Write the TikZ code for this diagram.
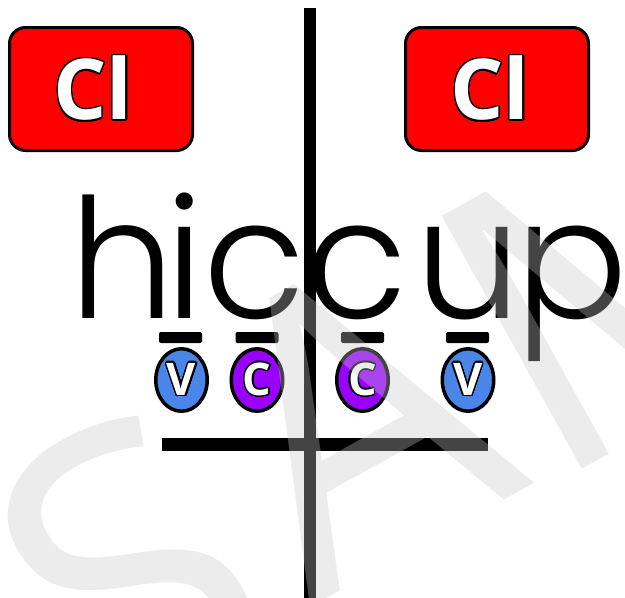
\documentclass[tikz,border=0pt]{standalone}
\usepackage{fontspec}
\setmainfont{Open Sans}
\newfontfamily\wordfont{Poppins Light}
\usepackage{contour}
\contourlength{1.4pt}
\contournumber{32}
\usetikzlibrary{positioning,shapes.geometric}
\definecolor{vowelblue}{HTML}{4A86E8}
\definecolor{conspurple}{HTML}{9900FF}
\definecolor{markgray}{HTML}{C8C8C8}

\begin{document}
\begin{tikzpicture}[x=1pt, y=-1pt,
  sylbox/.style={rectangle, draw, line width=3pt, fill=red, rounded corners=16pt,
                 minimum width=183pt, minimum height=123pt},
  tag/.style={text=white, inner sep=0pt, font=\bfseries\fontsize{84}{84}\selectfont},
  oval/.style={ellipse, draw, line width=3.5pt, minimum width=51.5pt, minimum height=62.5pt,
               inner sep=0pt, text=white, font=\bfseries\fontsize{45}{45}\selectfont},
  vowel/.style={oval, fill=vowelblue},
  cons/.style={oval, fill=conspurple},
  bar/.style={rectangle, fill=black, rounded corners=2pt, minimum width=43pt,
              minimum height=11pt, inner sep=0pt},
  wmark/.style={inner sep=0pt, anchor=base, rotate=29, text=markgray, text opacity=0.34,
                font=\fontsize{405}{405}\selectfont}
]
\useasboundingbox (0,0) rectangle (625,598);

% Closed syllable boxes
\node[sylbox] (boxL) at (101,89) {};
\node[sylbox] (boxR) at (497,89) {};
\node[tag] (clL) at ([xshift=-8pt]boxL.center) {\contour{black}{Cl}};
\node[tag] (clR) at ([xshift=-7pt]boxR.center) {\contour{black}{Cl}};

% The word
\node[inner sep=0pt, anchor=base west, font=\wordfont\fontsize{167}{167}\selectfont]
  (word) at (69,318) {h\kern-10pt i\kern0pt c\kern0pt c\kern8pt u\kern-6pt p};

% Division line
\coordinate (topV) at (310,8);
\coordinate (botV) at (310,598);
\draw[line width=11.5pt] (topV) -- (botV);

% Marks under the letters
\node[bar] (barI)  at (180.5,337.5) {};
\node[bar] (barC1) at (257,337.5) {};
\node[bar] (barC2) at (362.5,337.5) {};
\node[bar] (barU)  at (467.5,337.5) {};

\node[vowel] (vI)  at (181.5,380) {\contour{black}{V}};
\node[cons]  (cC1) at (257,380)   {\contour{black}{C}};
\node[cons]  (cC2) at (362.5,380) {\contour{black}{C}};
\node[vowel] (vU)  at (468,380)   {\contour{black}{V}};

% Base line
\coordinate (leftH) at (162,444);
\coordinate (rightH) at (488,444);
\draw[line width=13pt] (leftH) -- (rightH);

% Watermark
\node[wmark] (wmS) at (200,700) {S};
\node[wmark] (wmA) at (423,545) {A};
\node[wmark] (wmM) at (707,400) {M};
\end{tikzpicture}
\end{document}
